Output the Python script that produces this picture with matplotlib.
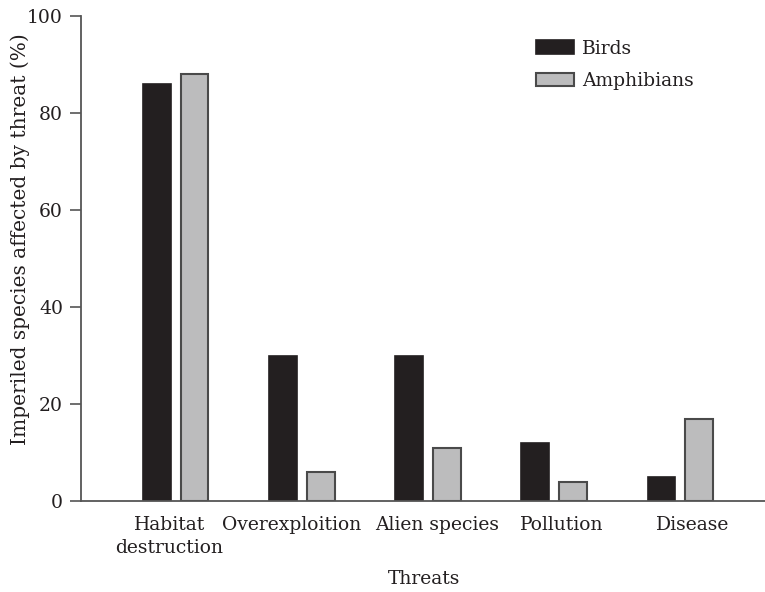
import matplotlib
matplotlib.use("Agg")
import matplotlib.pyplot as plt
import numpy as np

categories = ["Habitat\ndestruction", "Overexploition", "Alien species", "Pollution", "Disease"]
birds = [86, 30, 30, 12, 5]
amphibians = [88, 6, 11, 4, 17]
series_names = ["Birds", "Amphibians"]
yticks = [0, 20, 40, 60, 80, 100]

plt.rcParams['font.family'] = ['DejaVu Serif']
FS = 13.5
fig = plt.figure(figsize=(7.65, 5.92), dpi=100)
ax = fig.add_axes([81/765, 1 - 501/592, 1 - 81/765, (501 - 16)/592])

x = np.arange(len(categories))
w = 0.22
off = 0.15
ax.bar(x - off, birds, w, color="#231f20", edgecolor="#231f20", linewidth=1.2, label=series_names[0])
ax.bar(x + off, amphibians, w, color="#bcbcbd", edgecolor="#4a4a4a", linewidth=1.5, label=series_names[1])

ax.set_xlim(-0.75, 4.67)
ax.set_ylim(0, 100)
ax.set_yticks(yticks)
label_shift = [-0.05, -0.08, 0.07, 0.06, 0.10]
ax.set_xticks(x + np.array(label_shift))
ax.set_xticklabels(categories, fontsize=FS, color="#231f20", linespacing=1.35)
ax.tick_params(axis="x", length=0, pad=11)
ax.tick_params(axis="y", direction="out", length=8, width=1.2, color="#555555", labelsize=FS, labelcolor="#231f20", pad=5)
for s in ["top", "right"]:
    ax.spines[s].set_visible(False)
for s in ["left", "bottom"]:
    ax.spines[s].set_color("#555555")
    ax.spines[s].set_linewidth(1.3)

ax.set_ylabel("Imperiled species affected by threat (%)", fontsize=14.5, color="#231f20", va="center")
ax.yaxis.set_label_coords((20 - 81) / 684, (501 - 239) / 485)
ax.set_xlabel("Threats", fontsize=FS, color="#231f20", va="center")
ax.xaxis.set_label_coords((424 - 81) / 684, (501 - 579) / 485)

leg = ax.legend(loc="upper left", bbox_to_anchor=(519.5/765, 1 - 23/592), bbox_transform=fig.transFigure,
                frameon=False, fontsize=FS, handlelength=2.0, handleheight=0.75,
                handletextpad=0.45, labelspacing=0.75)
for t in leg.get_texts():
    t.set_color("#231f20")

fig.savefig("out.png", dpi=100)
